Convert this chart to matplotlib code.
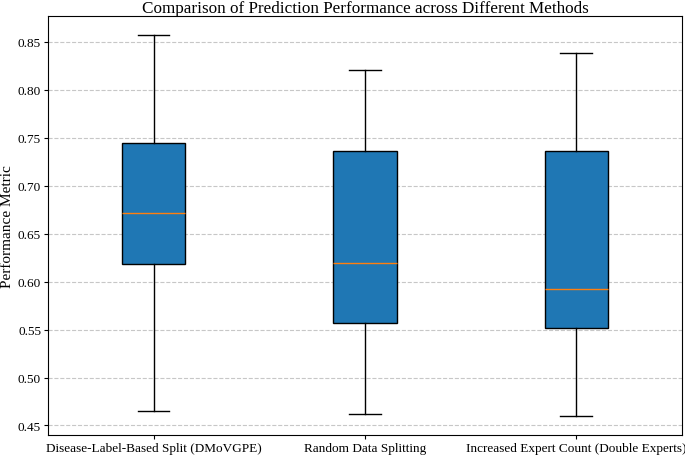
import matplotlib
matplotlib.use("Agg")
import matplotlib.pyplot as plt

# Box statistics
methods = [
    "Disease-Label-Based Split (DMoVGPE)",
    "Random Data Splitting",
    "Increased Expert Count (Double Experts)",
]
whisker_low = [0.465, 0.462, 0.460]
q1_values = [0.618, 0.557, 0.552]
medians = [0.672, 0.619, 0.592]
q3_values = [0.744, 0.736, 0.736]
whisker_high = [0.857, 0.821, 0.838]

plt.rcParams["font.family"] = ["Liberation Serif", "DejaVu Serif"]

fig = plt.figure(figsize=(6.85, 4.56), dpi=100)
ax = fig.add_axes([0.070, 0.044, 0.9255, 0.9187])

stats = []
for i in range(len(methods)):
    stats.append({
        "label": methods[i],
        "whislo": whisker_low[i],
        "q1": q1_values[i],
        "med": medians[i],
        "q3": q3_values[i],
        "whishi": whisker_high[i],
        "fliers": [],
    })

ax.bxp(stats, patch_artist=True, widths=0.3,
       boxprops=dict(facecolor="#1f77b4", edgecolor="black"),
       medianprops=dict(color="#ff7f0e"))

ax.set_title("Comparison of Prediction Performance across Different Methods", fontsize=12.3, pad=2)
ax.set_ylabel("Performance Metric", fontsize=11, labelpad=3)
ax.tick_params(axis="both", labelsize=9.5, length=3, pad=2)
ax.yaxis.grid(True, linestyle="--", alpha=0.7)
ax.set_axisbelow(True)

fig.savefig("out.png", dpi=100)
